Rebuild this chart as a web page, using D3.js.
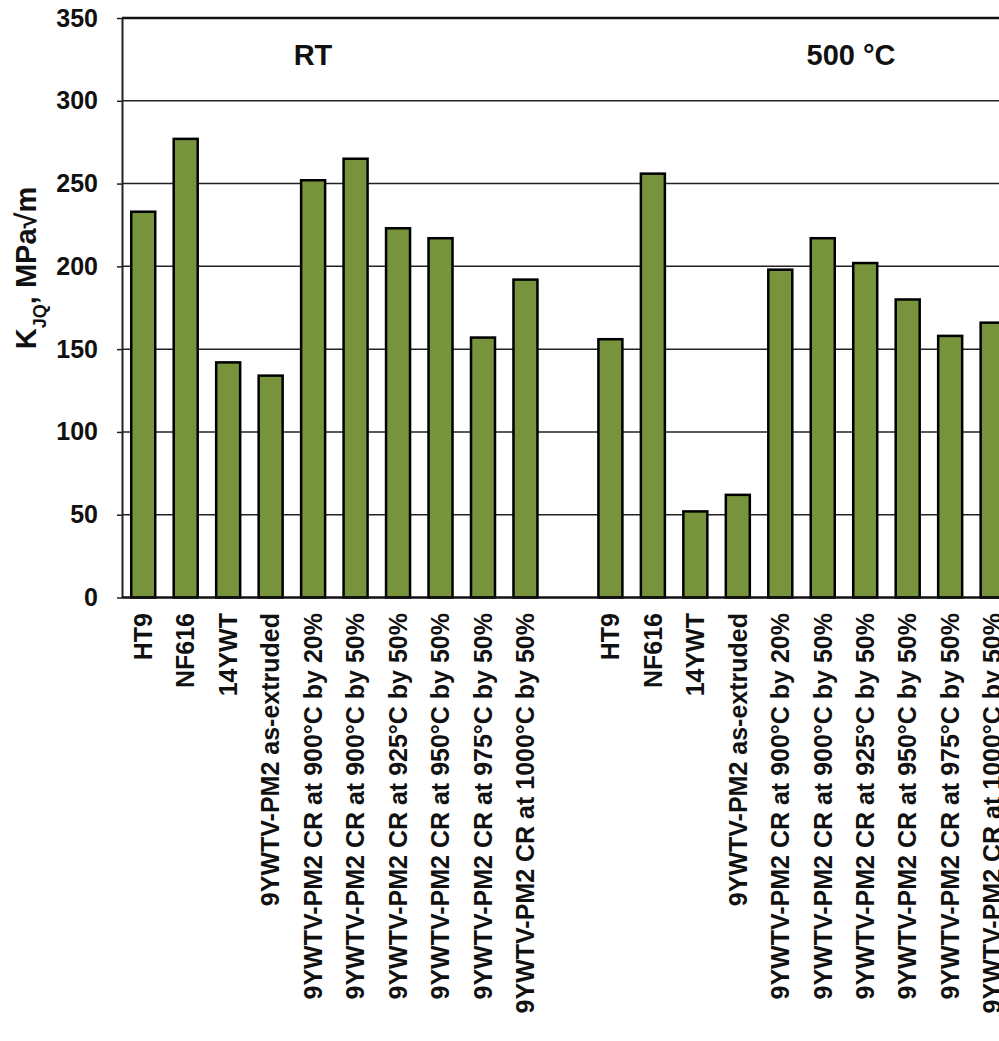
<!DOCTYPE html>
<html>
<head>
<meta charset="utf-8">
<script src="https://cdn.jsdelivr.net/npm/d3@7"></script>
<style>
  body { margin: 0; background: #fff; }
  svg { display: block; font-family: "Liberation Sans", Arial, sans-serif; font-weight: bold; }
</style>
</head>
<body>
<svg id="chart" width="999" height="1041"></svg>
<script>
// data
var materials = [
    'HT9',
    'NF616',
    '14YWT',
    '9YWTV-PM2 as-extruded',
    '9YWTV-PM2 CR at 900°C by 20%',
    '9YWTV-PM2 CR at 900°C by 50%',
    '9YWTV-PM2 CR at 925°C by 50%',
    '9YWTV-PM2 CR at 950°C by 50%',
    '9YWTV-PM2 CR at 975°C by 50%',
    '9YWTV-PM2 CR at 1000°C by 50%'
];
var groups = ['RT', '500 °C'];
var rtValues = [233, 277, 142, 134, 252, 265, 223, 217, 157, 192];
var hotValues = [156, 256, 52, 62, 198, 217, 202, 180, 158, 166];
var yTicks = [0, 50, 100, 150, 200, 250, 300, 350];

var svg = d3.select('#chart');

var plotLeft = 122, plotTop = 18, plotBottom = 597.5;
var step = 42.47;

// build rows: group 1, empty slot, group 2
var rows = [];
materials.forEach(function(m, i) { rows.push({key: 'a' + i, label: m, value: rtValues[i]}); });
rows.push({key: 'gap', label: '', value: null});
materials.forEach(function(m, i) { rows.push({key: 'b' + i, label: m, value: hotValues[i]}); });

var plotRight = plotLeft + rows.length * step;

var x = d3.scaleBand()
    .domain(rows.map(function(d) { return d.key; }))
    .range([plotLeft, plotRight])
    .paddingInner(0.435)
    .paddingOuter(0.2175);

var y = d3.scaleLinear().domain([0, 350]).range([plotBottom, plotTop]);

// gridlines
svg.append('g')
    .selectAll('line')
    .data(yTicks.filter(function(t) { return t > 0 && t < 350; }))
    .enter().append('line')
    .attr('x1', plotLeft).attr('x2', plotRight)
    .attr('y1', function(d) { return y(d); })
    .attr('y2', function(d) { return y(d); })
    .attr('stroke', '#222')
    .attr('stroke-width', 1.5);

// top border
svg.append('line')
    .attr('x1', plotLeft).attr('x2', plotRight)
    .attr('y1', y(350)).attr('y2', y(350))
    .attr('stroke', '#111').attr('stroke-width', 2.5);

// bars
svg.append('g')
    .selectAll('rect')
    .data(rows.filter(function(d) { return d.value !== null; }))
    .enter().append('rect')
    .attr('x', function(d) { return x(d.key); })
    .attr('width', x.bandwidth())
    .attr('y', function(d) { return y(d.value); })
    .attr('height', function(d) { return y(0) - y(d.value); })
    .attr('fill', '#77933c')
    .attr('stroke', '#000')
    .attr('stroke-width', 2.5);

// y axis
var yAxis = svg.append('g')
    .attr('transform', 'translate(' + plotLeft + ',0)')
    .call(d3.axisLeft(y).tickValues(yTicks).tickSize(5).tickPadding(19).tickSizeOuter(0));
yAxis.select('.domain').attr('stroke', '#222').attr('stroke-width', 2);
yAxis.selectAll('.tick line').attr('stroke', '#222').attr('stroke-width', 1.5);
yAxis.selectAll('.tick text')
    .attr('fill', '#111')
    .style('font-size', '25px')
    .style('font-family', '"Liberation Sans", Arial, sans-serif')
    .style('font-weight', 'bold');

// x axis line
svg.append('line')
    .attr('x1', plotLeft).attr('x2', plotRight)
    .attr('y1', plotBottom).attr('y2', plotBottom)
    .attr('stroke', '#111').attr('stroke-width', 2.5);

// category labels
svg.append('g')
    .selectAll('text')
    .data(rows)
    .enter().append('text')
    .attr('transform', function(d) {
        return 'translate(' + (x(d.key) + x.bandwidth() / 2) + ',613) rotate(-90)';
    })
    .attr('dy', '0.35em')
    .attr('text-anchor', 'end')
    .attr('fill', '#111')
    .style('font-size', '25px')
    .text(function(d) { return d.label; });

// group labels
svg.append('text')
    .attr('x', 313).attr('y', 65)
    .attr('text-anchor', 'middle')
    .attr('fill', '#111')
    .style('font-size', '29px')
    .text(groups[0]);
svg.append('text')
    .attr('x', 851).attr('y', 65)
    .attr('text-anchor', 'middle')
    .attr('fill', '#111')
    .style('font-size', '29px')
    .text(groups[1]);

// y axis title
var title = svg.append('text')
    .attr('transform', 'translate(36,268) rotate(-90)')
    .attr('text-anchor', 'middle')
    .attr('fill', '#111')
    .style('font-size', '29px');
title.append('tspan').text('K');
title.append('tspan').attr('baseline-shift', 'sub').style('font-size', '18px').text('JQ');
title.append('tspan').text(', MPa\u221Am');
</script>
</body>
</html>
